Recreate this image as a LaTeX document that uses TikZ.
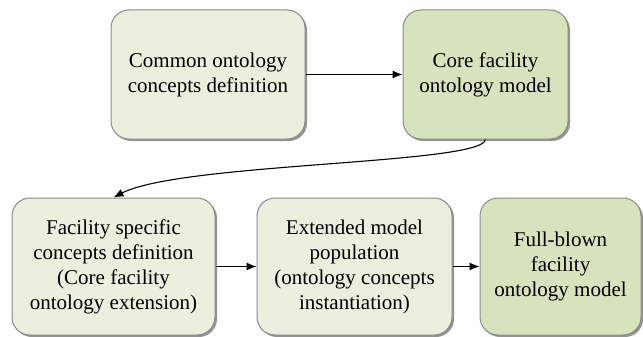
\documentclass[tikz,border=0pt]{standalone}
\usepackage{fontspec}
\setmainfont{Liberation Serif}
\usetikzlibrary{arrows.meta,shadows}
\definecolor{lightbox}{HTML}{EBF0DE}
\definecolor{darkbox}{HTML}{D7E3BD}
\definecolor{boxline}{HTML}{8A8A8A}
\tikzset{
  stepbox/.style={draw=boxline, line width=1pt, rounded corners=18pt, inner sep=0pt,
    align=center, font=\fontsize{21pt}{25pt}\selectfont,
    drop shadow={shadow xshift=2pt, shadow yshift=-2pt, fill=black!60, opacity=0.7}},
  light/.style={stepbox, fill=lightbox},
  dark/.style={stepbox, fill=darkbox},
  conn/.style={line width=1.1pt, -{Latex[length=10pt,width=8pt]}}
}
\begin{document}
\begin{tikzpicture}[x=1pt,y=-1pt]
\useasboundingbox (0,0) rectangle (643,337);
\node[light, minimum width=194pt, minimum height=129pt] (a) at (208,74.5) {Common ontology\\concepts definition};
\node[dark, minimum width=165pt, minimum height=129pt] (b) at (485.5,74.5) {Core facility\\ontology model};
\node[light, minimum width=203pt, minimum height=137pt] (c) at (113.5,266.5) {Facility specific\\concepts definition\\(Core facility\\ontology extension)};
\node[light, minimum width=195pt, minimum height=137pt] (d) at (354.5,266.5) {Extended model\\population\\(ontology concepts\\instantiation)};
\node[dark, minimum width=161pt, minimum height=137pt] (e) at (560.5,266.5) {Full-blown\\facility\\ontology model};
\draw[conn] (a.east) -- (b.west);
\draw[conn] (c.east) -- (d.west);
\draw[conn] (d.east) -- (e.west);
\draw[conn] (b.south) .. controls ++(-3,25) and ++(67,-35) .. (c.north);
\end{tikzpicture}
\end{document}
